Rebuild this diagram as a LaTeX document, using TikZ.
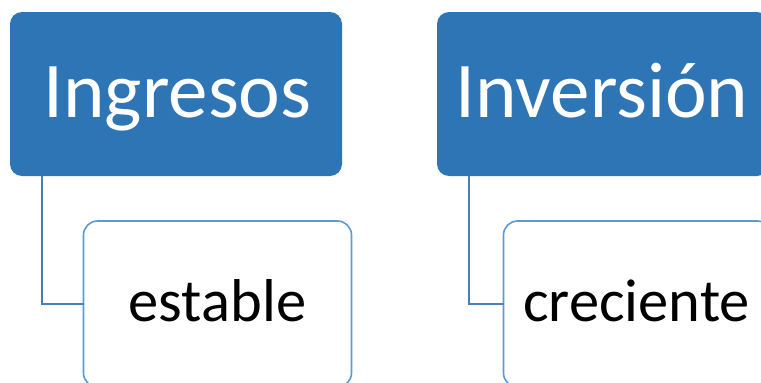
\documentclass[tikz,border=0pt]{standalone}
\usepackage{fontspec}
\setmainfont{Carlito}
\definecolor{headfill}{HTML}{2E75B6}
\definecolor{childline}{HTML}{5B9BD5}
\definecolor{connline}{HTML}{4A7EBB}
\tikzset{
  headbox/.style={draw=none, fill=headfill, rounded corners=12pt, minimum width=332pt, minimum height=164pt, inner sep=0pt, outer sep=0pt},
  childbox/.style={draw=childline, line width=1.6pt, fill=white, rounded corners=14pt, minimum width=268pt, minimum height=166pt, inner sep=0pt, outer sep=0pt},
  headtext/.style={text=white, font=\fontsize{79}{90}\selectfont, anchor=base, inner sep=0pt},
  childtext/.style={text=black, font=\fontsize{60.5}{70}\selectfont, anchor=base, inner sep=0pt},
  conn/.style={draw=connline, line width=1.8pt},
}
\begin{document}
\begin{tikzpicture}[x=1pt,y=-1pt]
\useasboundingbox (0,0) rectangle (761,383);
\clip (0,0) rectangle (761,383);
% head boxes
\node[headbox] (h1) at (176,94) {};
\node[headbox] (h2) at (603,94) {};
% child boxes
\node[childbox] (c1) at (217.5,304) {};
\node[childbox] (c2) at (637.5,304) {};
% connectors
\coordinate (k1) at (42,176);
\coordinate (k2) at (469,176);
\draw[conn] (k1) |- (c1.west);
\draw[conn] (k2) |- (c2.west);
% texts
\node[headtext] (t1) at (177.5,117) {Ingresos};
\node[headtext] (t2) at (602,117) {Inversión};
\node[childtext] (t3) at (217.5,321) {estable};
\node[childtext] (t4) at (636.5,321) {creciente};
\end{tikzpicture}
\end{document}
